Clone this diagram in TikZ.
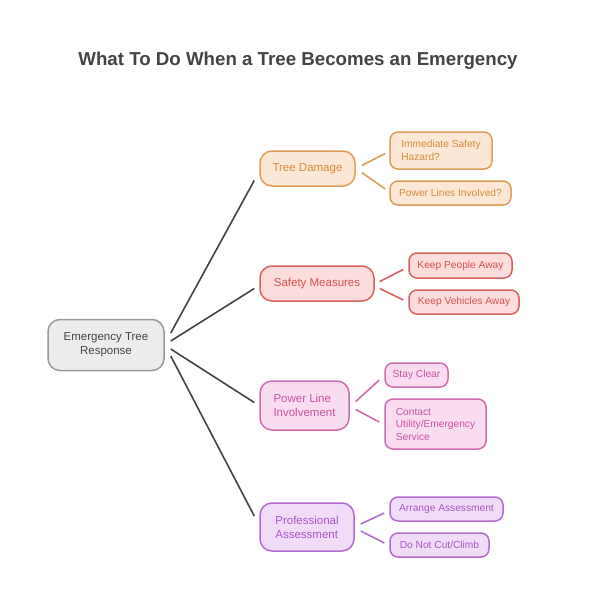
\documentclass[tikz,border=0pt]{standalone}
\usepackage{fontspec}
\setmainfont{Liberation Sans}
\usetikzlibrary{calc,positioning}
\definecolor{rootln}{HTML}{9A9A9A}
\definecolor{rootbg}{HTML}{ECECEC}
\definecolor{roottx}{HTML}{444444}
\definecolor{tdln}{HTML}{DE9D58}
\definecolor{tdbg}{HTML}{FCE6D6}
\definecolor{tdtx}{HTML}{D68C3E}
\definecolor{smln}{HTML}{D9625F}
\definecolor{smbg}{HTML}{FCDCDC}
\definecolor{smtx}{HTML}{D65353}
\definecolor{plln}{HTML}{CF6DB0}
\definecolor{plbg}{HTML}{FADCF0}
\definecolor{pltx}{HTML}{C953A5}
\definecolor{paln}{HTML}{B36DD0}
\definecolor{pabg}{HTML}{F0DCF8}
\definecolor{patx}{HTML}{A955C8}

\begin{document}
\begin{tikzpicture}[x=1pt,y=-1pt,
    box/.style={draw,line width=1.5pt,inner sep=2pt,align=left},
    mainbox/.style={box,rounded corners=12pt,font=\fontsize{11.5}{14}\selectfont},
    subbox/.style={box,rounded corners=8pt,font=\fontsize{10.2}{12.5}\selectfont},
    rootcol/.style={draw=rootln,fill=rootbg,text=roottx},
    tdcol/.style={draw=tdln,fill=tdbg,text=tdtx},
    smcol/.style={draw=smln,fill=smbg,text=smtx},
    plcol/.style={draw=plln,fill=plbg,text=pltx},
    pacol/.style={draw=paln,fill=pabg,text=patx},
    link/.style={draw=roottx,line width=1.6pt},
  ]
  \useasboundingbox[fill=white] (0,0) rectangle (590,595);

  \node[text=roottx,font=\bfseries\fontsize{18.7}{22}\selectfont] (title) at (298,61) {What To Do When a Tree Becomes an Emergency};

  % root and branches
  \node[mainbox,rootcol,align=center,minimum width=116pt,minimum height=51pt] (root) at (106,345) {Emergency Tree\\Response};
  \node[mainbox,tdcol,minimum width=95pt,minimum height=35pt] (b1) at (307.5,168.5) {Tree Damage};
  \node[mainbox,smcol,minimum width=114pt,minimum height=35pt] (b2) at (317,283.5) {Safety Measures};
  \node[mainbox,plcol,minimum width=89pt,minimum height=49pt] (b3) at (304.5,405.5) {Power Line\\Involvement};
  \node[mainbox,pacol,minimum width=94pt,minimum height=48pt] (b4) at (307,527) {Professional\\Assessment};

  % leaves
  \node[subbox,tdcol,minimum width=102pt,minimum height=37pt] (c11) at (441,150.5) {Immediate Safety\\Hazard?};
  \node[subbox,tdcol,minimum width=121pt,minimum height=24pt] (c12) at (450.5,193) {Power Lines Involved?};
  \node[subbox,smcol,minimum width=103pt,minimum height=25pt] (c21) at (460.5,265.5) {Keep People Away};
  \node[subbox,smcol,minimum width=110pt,minimum height=24pt] (c22) at (464,302) {Keep Vehicles Away};
  \node[subbox,plcol,minimum width=63pt,minimum height=24pt] (c31) at (416.5,375) {Stay Clear};
  \node[subbox,plcol,minimum width=101pt,minimum height=50pt] (c32) at (435.5,424) {Contact\\Utility/Emergency\\Service};
  \node[subbox,pacol,minimum width=113pt,minimum height=24pt] (c41) at (446.5,509) {Arrange Assessment};
  \node[subbox,pacol,minimum width=99pt,minimum height=24pt] (c42) at (439.5,545) {Do Not Cut/Climb};

  \draw[link] ($(root.east)+(6,-12)$) -- ($(b1.west)+(-5,12)$);
  \draw[link] ($(root.east)+(6,-4)$) -- ($(b2.west)+(-5,5)$);
  \draw[link] ($(root.east)+(6,4)$) -- ($(b3.west)+(-5,-3)$);
  \draw[link] ($(root.east)+(6,11)$) -- ($(b4.west)+(-5,-11)$);

  \draw[tdln,line width=1.6pt] ($(b1.east)+(6,-3)$) -- ($(c11.west)+(-4,3)$);
  \draw[tdln,line width=1.6pt] ($(b1.east)+(6,4)$) -- ($(c12.west)+(-4,-4)$);
  \draw[smln,line width=1.6pt] ($(b2.east)+(5,-2)$) -- ($(c21.west)+(-5,4)$);
  \draw[smln,line width=1.6pt] ($(b2.east)+(5,5)$) -- ($(c22.west)+(-5,-2)$);
  \draw[plln,line width=1.6pt] ($(b3.east)+(6,-4)$) -- ($(c31.west)+(-5,5)$);
  \draw[plln,line width=1.6pt] ($(b3.east)+(6,4)$) -- ($(c32.west)+(-5,-2)$);
  \draw[paln,line width=1.6pt] ($(b4.east)+(6,-3)$) -- ($(c41.west)+(-5,4)$);
  \draw[paln,line width=1.6pt] ($(b4.east)+(6,4)$) -- ($(c42.west)+(-5,-2)$);
\end{tikzpicture}
\end{document}
